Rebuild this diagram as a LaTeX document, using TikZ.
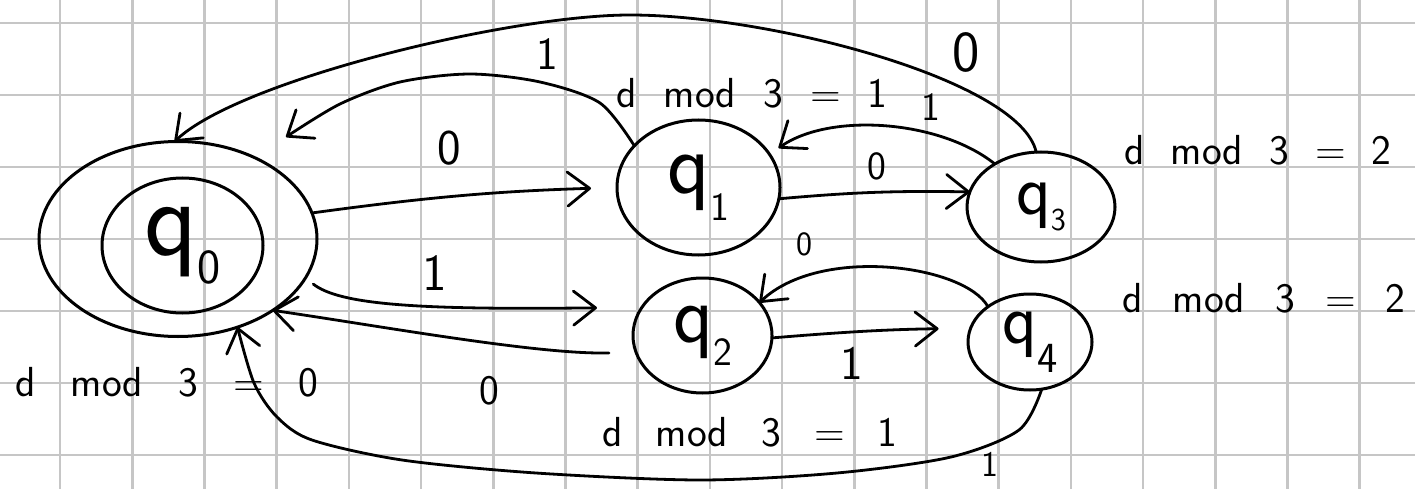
\documentclass[tikz,border=0pt]{standalone}
\usepackage{fontspec}
\usetikzlibrary{arrows.meta,shapes.geometric}
\definecolor{gridc}{RGB}{198,198,198}
\newcommand\annfont[1]{\sffamily\fontsize{42}{42}\selectfont\fontdimen2\font=#1\relax\fontdimen3\font=0pt\relax\fontdimen4\font=0pt\relax}
\newcommand\labfont[1]{\sffamily\fontsize{#1}{#1}\selectfont}
\newcommand\stname[4]{{\fontsize{#1}{#1}\selectfont q}\raisebox{-#3pt}{\fontsize{#2}{#2}\selectfont #4}}
\begin{document}
\begin{tikzpicture}[x=1pt,y=-1pt,
  st/.style={draw, ellipse, line width=3pt, inner sep=0pt, outer sep=0pt, font=\sffamily},
  edge/.style={line width=2.8pt, line cap=round, -{Straight Barb[length=22pt,width=34pt,round]}},
  gridline/.style={draw=gridc, line width=2.6pt},
  lab/.style={inner sep=0pt},
  ann/.style={inner sep=0pt, anchor=base}]
\fill[white] (0,0) rectangle (1415,489);
\useasboundingbox (0,0) rectangle (1415,489);
% grid
\foreach \k in {0,...,18} \draw[gridline] ({60+72.2*\k},0) -- ({60+72.2*\k},489);
\foreach \k in {0,...,6} \draw[gridline] (0,{23+72*\k}) -- (1415,{23+72*\k});
% states
\node[st, minimum width=278pt, minimum height=195pt] (q0o) at (178,239) {};
\node[st, minimum width=161pt, minimum height=135pt] (q0) at (182.5,245.5) {\stname{110}{49}{28}{0}};
\node[st, minimum width=163pt, minimum height=135pt] (q1) at (698.5,187.5) {\stname{88}{40}{27}{1}};
\node[st, minimum width=139pt, minimum height=115pt] (q2) at (702.5,335.5) {\stname{83}{40}{23}{2}};
\node[st, minimum width=148pt, minimum height=110pt] (q3) at (1041,207) {\stname{72}{32}{16}{3}};
\node[st, minimum width=124pt, minimum height=96pt] (q4) at (1030,342) {\stname{72}{43}{29}{4}};
% edges
\coordinate (top) at (630,15);
\draw[edge] (q3.95) .. controls (1020,80) and (770,15) .. (top)
  .. controls (510,15) and (240,80) .. (q0o.92);
\coordinate (c10) at (286,137);
\draw[edge] plot[smooth] coordinates {(q1.147) (600,103) (540,82) (470,74) (400,82) (340,104) (c10)};
\draw[edge, shorten >=26pt] (q0o.11) to[bend left=3] (q1.180);
\draw[edge, shorten <=10pt, shorten >=45pt] (q0o.-17) .. controls (340,305) and (420,310) .. (q2.155);
\draw[edge, shorten <=27pt] (q2.194) .. controls (540,355) and (380,326) .. (q0o.-37);
\draw[edge] plot[smooth] coordinates {(q4.-76) (1019,430) (951,457) (837,473) (700,480) (536,473) (402,460) (312,440) (277,417) (254,383) (q0o.-56)};
\draw[edge] (q1.-8) to[bend left=3] (q3.168);
\draw[edge, shorten >=11pt] (q3.137) .. controls (940,120) and (830,112) .. (q1.25);
\draw[edge, shorten >=32pt] (q2.-2) to[bend left=2] (q4.167);
\draw[edge] (q4.140) .. controls (965,265) and (820,245) .. (q2.30);
% edge labels
\node[lab, font=\labfont{50}] (e01) at (449,148) {0};
\node[lab, font=\labfont{52}] (e02) at (435,273) {1};
\node[lab, font=\labfont{42}] (e20) at (489,391) {0};
\node[lab, font=\labfont{46}] (e10) at (547,54) {1};
\node[lab, font=\labfont{58}] (e30) at (966,52) {0};
\node[lab, font=\labfont{40}] (e31) at (931,107) {1};
\node[lab, font=\labfont{40}] (e13) at (877,166) {0};
\node[lab, font=\labfont{34}] (e42) at (804,244) {0};
\node[lab, font=\labfont{48}] (e24) at (852,363) {1};
\node[lab, font=\labfont{36}] (e40) at (990,464) {1};
% annotations
\node[ann, font={\annfont{27pt}}] (a1) at (752,108) {d mod 3 = 1};
\node[ann, font={\annfont{26pt}}] (a3) at (1258,165) {d mod 3 = 2};
\node[ann, font={\annfont{30pt}}] (a4) at (1264,312) {d mod 3 = 2};
\node[ann, font={\annfont{33pt}}] (a2) at (750,446) {d mod 3 = 1};
\node[ann, font={\annfont{35pt}}] (a0) at (167,396) {d mod 3 = 0};
\end{tikzpicture}
\end{document}
